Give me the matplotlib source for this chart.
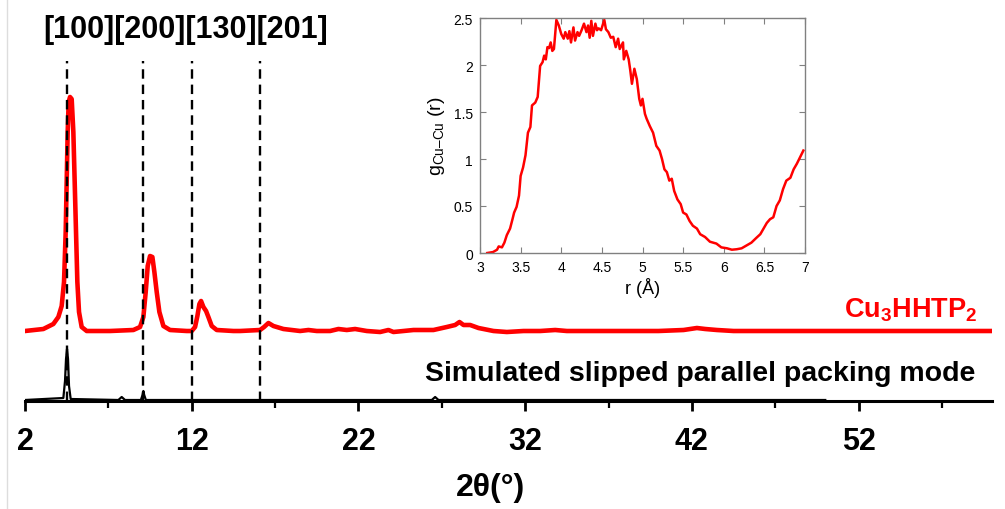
import numpy as np
from matplotlib import pyplot as plt
from matplotlib.lines import Line2D

plt.rcParams['font.family'] = ['Liberation Sans', 'DejaVu Sans']
plt.rcParams['mathtext.fontset'] = 'custom'
plt.rcParams['mathtext.rm'] = 'Liberation Sans'
plt.rcParams['mathtext.bf'] = 'Liberation Sans:bold'

# XRD pattern of Cu3HHTP2 (offset above the simulated pattern)
tt_exp = [2.0, 3.1, 3.7, 4.0, 4.2, 4.34, 4.44, 4.5, 4.56, 4.62, 4.7, 4.8, 4.9, 4.98, 5.06,
          5.14, 5.24, 5.4, 5.7, 7.1, 8.5, 8.9, 9.1, 9.24, 9.36, 9.5, 9.64, 9.76, 9.9, 10.06,
          10.3, 10.7, 11.7, 12.0, 12.2, 12.34, 12.46, 12.56, 12.7, 12.86, 13.0, 13.2, 13.5,
          14.5, 14.9, 16.1, 16.34, 16.6, 16.9, 17.5, 18.5, 19.0, 19.5, 20.3, 20.8, 21.3, 21.8,
          22.5, 23.3, 23.8, 24.1, 25.3, 26.5, 27.3, 27.8, 28.06, 28.3, 28.7, 29.2, 30.1, 30.9,
          31.9, 32.9, 33.8, 34.5, 37.0, 40.0, 41.5, 42.3, 42.8, 43.5, 44.5, 50.0, 55.0, 60.0]
i_exp = [70, 72, 77, 84, 95, 119, 169, 219, 269, 299, 304, 302, 269, 219, 169,
         119, 89, 74, 70, 70, 71, 74, 84, 109, 135, 145, 144, 129, 109, 89,
         75, 71, 70, 70, 74, 85, 97, 100, 94, 90, 84, 75, 71,
         70, 70, 71, 74, 78, 75, 72, 70, 71, 70, 70, 72, 71, 72,
         70, 69, 71, 69, 71, 71, 74, 76, 79, 76, 76, 73, 70, 69,
         70, 70, 71, 70, 70, 70, 71, 73, 72, 71, 70, 70, 70, 70]

# simulated slipped parallel packing mode
tt_sim = [2.0, 4.3, 4.4, 4.46, 4.52, 4.58, 4.64, 4.74, 7.6, 7.8, 8.0, 8.95, 9.05, 9.1,
          9.15, 9.25, 26.4, 26.6, 26.8, 50.0]
i_sim = [1, 3, 20, 42, 52, 42, 15, 2, 1, 4, 1, 1, 6, 10,
         6, 1, 1, 4, 1, 1]

peak_pos = [4.5, 9.1, 12.0, 16.1]
major_ticks = [2, 12, 22, 32, 42, 52]
minor_ticks = [7, 17, 27, 37, 47, 57]

# radial distribution function (inset)
r = [3.09, 3.16, 3.21, 3.23, 3.27, 3.30, 3.33, 3.37, 3.40, 3.42, 3.45, 3.48, 3.50, 3.53,
     3.56, 3.59, 3.62, 3.64, 3.68, 3.71, 3.74, 3.77, 3.79, 3.81, 3.83, 3.85, 3.87, 3.89,
     3.91, 3.94, 3.97, 4.00, 4.03, 4.05, 4.08, 4.10, 4.12, 4.15, 4.17, 4.20, 4.22, 4.25,
     4.28, 4.31, 4.33, 4.35, 4.37, 4.39, 4.42, 4.44, 4.46, 4.49, 4.53, 4.55, 4.58, 4.61,
     4.64, 4.67, 4.70, 4.72, 4.76, 4.77, 4.80, 4.83, 4.85, 4.87, 4.90, 4.93, 4.96, 4.98,
     5.00, 5.03, 5.05, 5.09, 5.13, 5.17, 5.21, 5.24, 5.27, 5.30, 5.33, 5.36, 5.39, 5.43,
     5.47, 5.50, 5.54, 5.58, 5.62, 5.67, 5.71, 5.77, 5.83, 5.91, 5.97, 6.04, 6.10, 6.16,
     6.22, 6.28, 6.34, 6.40, 6.45, 6.49, 6.53, 6.57, 6.61, 6.65, 6.69, 6.73, 6.77, 6.82,
     6.86, 6.90, 6.94, 6.98]
g = [0.0, 0.01, 0.035, 0.07, 0.06, 0.11, 0.19, 0.26, 0.36, 0.43, 0.49, 0.61, 0.82, 0.91,
     1.04, 1.28, 1.34, 1.57, 1.60, 1.66, 1.99, 2.03, 2.10, 2.06, 2.19, 2.18, 2.24, 2.15,
     2.17, 2.48, 2.42, 2.33, 2.28, 2.35, 2.28, 2.36, 2.24, 2.40, 2.26, 2.35, 2.31, 2.37,
     2.44, 2.35, 2.42, 2.29, 2.47, 2.31, 2.44, 2.37, 2.39, 2.37, 2.48, 2.38, 2.35, 2.29,
     2.30, 2.19, 2.28, 2.17, 2.24, 2.06, 2.15, 2.06, 1.94, 1.80, 1.96, 1.85, 1.64, 1.57,
     1.64, 1.48, 1.43, 1.35, 1.28, 1.14, 1.09, 1.00, 0.89, 0.86, 0.77, 0.79, 0.66, 0.57,
     0.52, 0.43, 0.41, 0.34, 0.29, 0.26, 0.20, 0.17, 0.12, 0.10, 0.06, 0.05, 0.035, 0.04,
     0.05, 0.08, 0.11, 0.16, 0.20, 0.26, 0.32, 0.36, 0.38, 0.50, 0.56, 0.68, 0.77, 0.80,
     0.89, 0.95, 1.02, 1.09]

W, H = 1005, 510
fig = plt.figure(figsize=(W / 100, H / 100), dpi=100)

# main XRD axes
ax = fig.add_axes([25 / W, 108 / H, 967 / W, 382 / H])
ax.plot(tt_exp, i_exp, color='red', lw=3.3, solid_joinstyle='round', zorder=2)
ax.plot(tt_sim, i_sim, color='black', lw=1.6, zorder=2)
ax.vlines(peak_pos, 0, 340, colors='black', linestyles=(0, (4, 2.5)), lw=1.7, zorder=3)
ax.set_xlim(2, 60)
ax.set_ylim(0, 382)
for s in ['left', 'top', 'right']:
    ax.spines[s].set_visible(False)
ax.spines['bottom'].set_linewidth(2.2)
ax.set_yticks([])
ax.set_xticks(major_ticks)
ax.set_xticks(minor_ticks, minor=True)
ax.tick_params(axis='x', which='major', direction='out', length=7, width=2, pad=11,
               labelsize=22)
ax.tick_params(axis='x', which='minor', direction='out', length=5, width=1.6)
for lab in ax.get_xticklabels():
    lab.set_fontweight('bold')

fig.text(490 / W, 1 - 488 / H, '2θ(°)', fontsize=23, fontweight='bold', ha='center', va='center')
fig.text(43 / W, 1 - 30 / H, '[100][200][130][201]', fontsize=22, fontweight='bold',
         ha='left', va='center')
fig.text(978 / W, 1 - 318 / H, r'$\mathbf{Cu_3HHTP_2}$', fontsize=19.5, color='red',
         ha='right', va='baseline')
fig.text(975 / W, 1 - 381 / H, 'Simulated slipped parallel packing mode', fontsize=20.5,
         fontweight='bold', ha='right', va='baseline')

# inset: Cu-Cu radial distribution
axi = fig.add_axes([480 / W, (H - 254) / H, 325 / W, 235 / H])
axi.plot(r, g, color='red', lw=1.8)
axi.set_xlim(3, 7)
axi.set_ylim(0, 2.5)
axi.set_xticks([3, 3.5, 4, 4.5, 5, 5.5, 6, 6.5, 7])
axi.set_xticklabels(['3', '3.5', '4', '4.5', '5', '5.5', '6', '6.5', '7'])
axi.set_yticks([0, 0.5, 1, 1.5, 2, 2.5])
axi.set_yticklabels(['0', '0.5', '1', '1.5', '2', '2.5'])
axi.tick_params(direction='in', top=True, right=True, length=4, width=0.8,
                color='#808080', labelsize=10, pad=5)
for s in axi.spines.values():
    s.set_color('#808080')
    s.set_linewidth(1)
axi.set_xlabel('r (Å)', fontsize=13, labelpad=2)
axi.set_ylabel(r'g$_{\mathrm{Cu–Cu}}$ (r)', fontsize=14, labelpad=5)

fig.add_artist(Line2D([7 / W, 7 / W], [0, 1], color='#dddddd', lw=1))

plt.savefig('out.png', dpi=100)
